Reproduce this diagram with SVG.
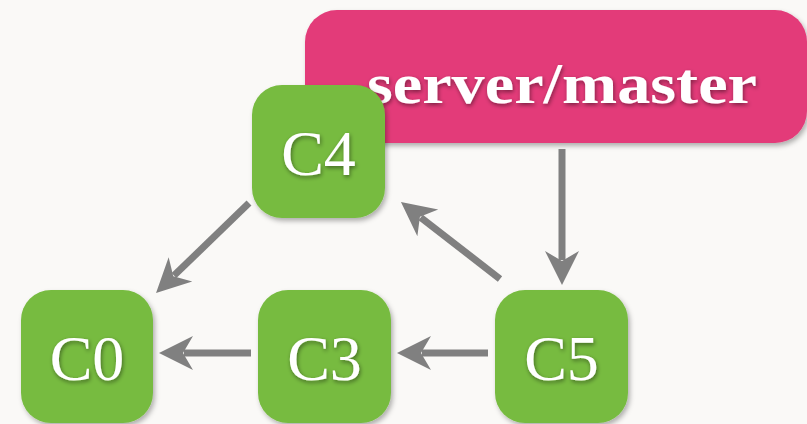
<svg xmlns="http://www.w3.org/2000/svg" width="807" height="424" viewBox="0 0 807 424">
<defs>
<style>
.node{fill:#77bb41;}
.lbl{font-family:"Liberation Serif","Times New Roman",serif;font-size:64px;fill:#ffffff;text-anchor:middle;}
.edge{stroke:#808080;stroke-width:7;fill:none;marker-end:url(#ah);}
</style>
<filter id="sh" x="-20%" y="-20%" width="140%" height="140%">
<feDropShadow dx="2" dy="3" stdDeviation="2.5" flood-color="#000" flood-opacity="0.3"/>
</filter>
<filter id="tsh" x="-20%" y="-20%" width="140%" height="140%">
<feDropShadow dx="1" dy="2" stdDeviation="2" flood-color="#000" flood-opacity="0.45"/>
</filter>
<marker id="ah" markerUnits="userSpaceOnUse" viewBox="-10 -18 36 36" refX="0" refY="0" markerWidth="36" markerHeight="36" orient="auto">
<path d="M25,0 L-9,-17 L1,0 L-9,17 Z" fill="#808080"/>
</marker>
</defs>
<rect width="807" height="424" fill="#faf9f7"/>
<g id="server-master">
<rect x="305" y="10" width="502" height="133" rx="32" fill="#e33b79" filter="url(#sh)"/>
<text x="562" y="103" font-family="'Liberation Serif','Times New Roman',serif" font-weight="bold" font-size="57" fill="#ffffff" text-anchor="middle" textLength="390" lengthAdjust="spacingAndGlyphs" filter="url(#tsh)">server/master</text>
</g>
<g id="connectors">
<line class="edge" x1="562" y1="149" x2="562" y2="260"/>
<line class="edge" x1="249" y1="203" x2="174" y2="275.6"/>
<line class="edge" x1="251" y1="353" x2="184" y2="353"/>
<line class="edge" x1="488" y1="353" x2="422" y2="353"/>
<line class="edge" x1="500" y1="279" x2="420.7" y2="217.4"/>
</g>
<g id="C4">
<rect class="node" x="252" y="85" width="133" height="133" rx="30" filter="url(#sh)"/>
<text class="lbl" x="318.5" y="175" filter="url(#tsh)">C4</text>
</g>
<g id="C0">
<rect class="node" x="21" y="290" width="132" height="133" rx="30" filter="url(#sh)"/>
<text class="lbl" x="87" y="380" filter="url(#tsh)">C0</text>
</g>
<g id="C3">
<rect class="node" x="258" y="290" width="133" height="133" rx="30" filter="url(#sh)"/>
<text class="lbl" x="324.5" y="380" filter="url(#tsh)">C3</text>
</g>
<g id="C5">
<rect class="node" x="495" y="290" width="133" height="133" rx="30" filter="url(#sh)"/>
<text class="lbl" x="561.5" y="380" filter="url(#tsh)">C5</text>
</g>
</svg>
